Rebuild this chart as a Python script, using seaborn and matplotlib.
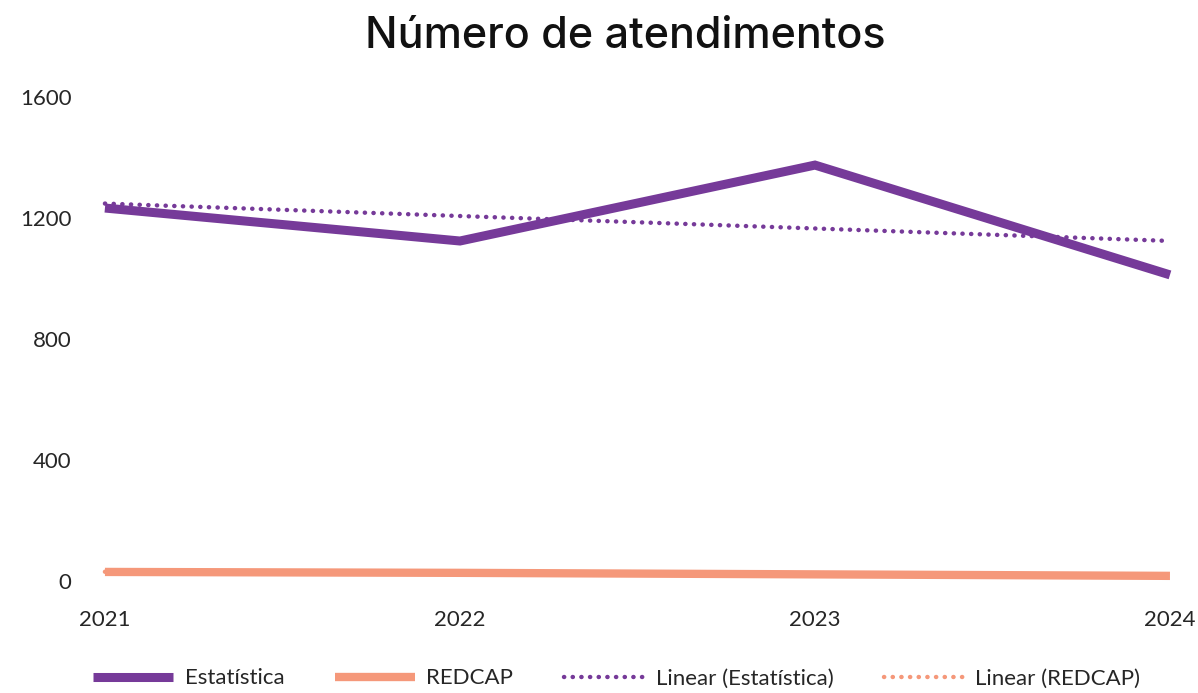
import numpy as np
import pandas as pd
import matplotlib
matplotlib.use("Agg")
import matplotlib.pyplot as plt
import seaborn as sns
from matplotlib.lines import Line2D

years = [2021, 2022, 2023, 2024]
estatistica = [1233, 1124, 1375, 1012]
redcap = [30, 27, 22, 17]
yticks = [0, 400, 800, 1200, 1600]
title = "Número de atendimentos"
labels = ["Estatística", "REDCAP", "Linear (Estatística)", "Linear (REDCAP)"]

sns.set_theme(style="white")
plt.rcParams['font.family'] = ['Lato', 'DejaVu Sans']

purple = "#763A99"
salmon = "#F5987A"

fig = plt.figure(figsize=(11.98, 6.93), dpi=100)
ax = fig.add_axes([0.0876, 0.1616, 0.889, 0.6984])

df = pd.DataFrame({"year": years, "Estatística": estatistica, "REDCAP": redcap})

# trend lines (Excel linear trendline)
p_e = np.polyfit(years, estatistica, 1)
p_r = np.polyfit(years, redcap, 1)
df["trend_e"] = np.polyval(p_e, years)
df["trend_r"] = np.polyval(p_r, years)

dot = (0, (0.05, 1.9))
sns.lineplot(data=df, x="year", y="trend_r", ax=ax, color=salmon, lw=3.2,
             linestyle=dot, dash_capstyle="round", clip_on=False)
sns.lineplot(data=df, x="year", y="REDCAP", ax=ax, color=salmon, lw=6,
             solid_capstyle="butt", clip_on=False)
sns.lineplot(data=df, x="year", y="Estatística", ax=ax, color=purple, lw=6.5,
             solid_capstyle="butt", solid_joinstyle="miter", clip_on=False)
sns.lineplot(data=df, x="year", y="trend_e", ax=ax, color=purple, lw=3.2,
             linestyle=dot, dash_capstyle="round", clip_on=False)

ax.set_xlim(2021, 2024)
ax.set_ylim(0, 1600)
ax.set_xticks(years)
ax.set_xticklabels([str(y) for y in years])
ax.set_yticks(yticks)
ax.set_yticklabels([str(t) for t in yticks])
ax.set_xlabel("")
ax.set_ylabel("")
for s in ax.spines.values():
    s.set_visible(False)
ax.tick_params(axis="both", length=0, labelsize=16, colors="#262626")
ax.tick_params(axis="x", pad=21)
ax.tick_params(axis="y", pad=24)
ax.grid(False)

fig.text(0.522, 0.948, title, ha="center", va="center", fontsize=31,
         family=["Inter", "DejaVu Sans"], fontweight="medium", color="#111111")

handles = [
    Line2D([0], [0], color=purple, lw=6.5, solid_capstyle="butt"),
    Line2D([0], [0], color=salmon, lw=6, solid_capstyle="butt"),
    Line2D([0], [0], color=purple, lw=3.2, linestyle=dot, dash_capstyle="round"),
    Line2D([0], [0], color=salmon, lw=3.2, linestyle=dot, dash_capstyle="round"),
]
fig.legend(handles, labels, loc="center", bbox_to_anchor=(0.515, 0.021), ncol=4,
           frameon=False, fontsize=16, handlelength=3.6, columnspacing=2.3,
           handletextpad=0.5, labelcolor="#262626")

fig.savefig("out.png", dpi=100)
